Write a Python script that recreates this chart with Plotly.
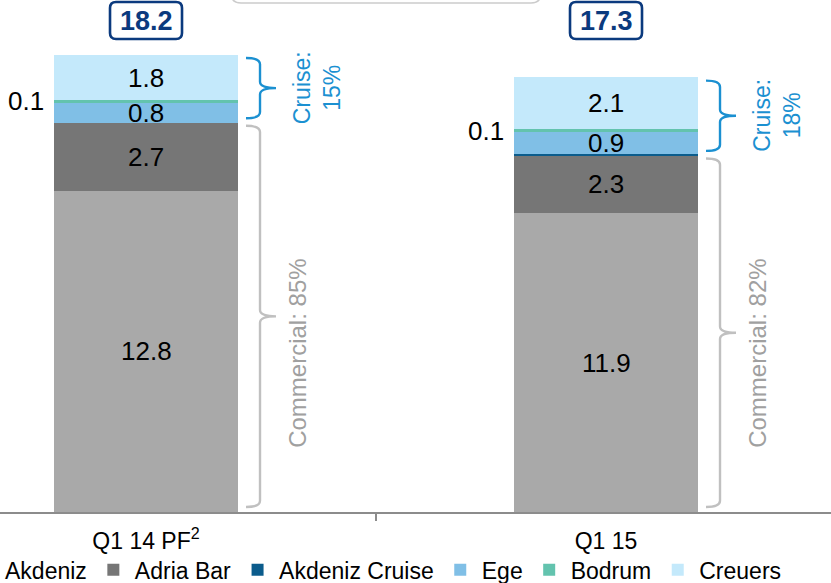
import plotly.graph_objects as go

# ---- data ----
categories = ["Q1 14 PF<sup>2</sup>", "Q1 15"]
series_names = ["Akdeniz", "Adria Bar", "Akdeniz Cruise", "Ege", "Bodrum", "Creuers"]
akdeniz = [12.8, 11.9]
adria_bar = [2.7, 2.3]
akdeniz_cruise = [0.0, 0.04]
ege = [0.8, 0.9]
bodrum = [0.1, 0.1]
creuers = [1.8, 2.1]
totals = [18.2, 17.3]
commercial_share = ["85%", "82%"]
cruise_share = ["15%", "18%"]

series_values = [akdeniz, adria_bar, akdeniz_cruise, ege, bodrum, creuers]
colors = ["#a9a9a9", "#767676", "#0b5c8c", "#80bfe6", "#63c3ae", "#c4e9fb"]
FONT = "Liberation Sans, Arial, sans-serif"
CRUISE_BLUE = "#1b90d1"
COMM_GRAY = "#c0c0c0"
NAVY = "#0b3a7e"

x = list(range(len(categories)))
bar_w = 0.4

fig = go.Figure()
for name, vals, col in zip(series_names, series_values, colors):
    fig.add_trace(go.Bar(x=x, y=vals, name=name, width=bar_w,
                         marker=dict(color=col, line=dict(width=0)),
                         hoverinfo="skip"))

annotations = []
shapes = []
for i in x:
    base = 0.0
    cum = []
    for vals in series_values:
        cum.append((base, base + vals[i]))
        base += vals[i]
    # inside segment labels
    for k in (0, 1, 3, 5):
        lo, hi = cum[k]
        annotations.append(dict(x=i, y=(lo + hi) / 2, xref="x", yref="y",
                                text=f"{series_values[k][i]:.1f}", showarrow=False,
                                font=dict(size=26, color="#000000", family=FONT)))
    # bodrum label outside left
    lo, hi = cum[4]
    annotations.append(dict(x=i - bar_w / 2, y=(lo + hi) / 2, xref="x", yref="y",
                            xanchor="right", xshift=-8,
                            text=f"{bodrum[i]:.1f}", showarrow=False,
                            font=dict(size=26, color="#000000", family=FONT)))
    # totals in rounded boxes
    annotations.append(dict(x=i, y=1, xref="x", yref="paper", yanchor="middle",
                            yshift=-20.5, text=f"<b>{totals[i]:.1f}</b>", showarrow=False,
                            font=dict(size=27, color=NAVY, family=FONT)))
    x0, x1, y0, y1, r = -36, 36, -2, -39, 6
    box = (f"M{x0+r},{y0} L{x1-r},{y0} Q{x1},{y0} {x1},{y0-r} L{x1},{y1+r} "
           f"Q{x1},{y1} {x1-r},{y1} L{x0+r},{y1} Q{x0},{y1} {x0},{y1+r} "
           f"L{x0},{y0-r} Q{x0},{y0} {x0+r},{y0} Z")
    shapes.append(dict(type="path", xref="x", yref="paper", xsizemode="pixel",
                       ysizemode="pixel", xanchor=i, yanchor=1, path=box,
                       line=dict(color=NAVY, width=2.6)))

    commercial_top = akdeniz[i] + adria_bar[i]
    total = totals[i]

    def brace(top, bot, color):
        mid = (top + bot) / 2
        rr = 0.25
        p = (f"M8,{top} Q22,{top} 22,{top-rr} L22,{mid+rr} Q22,{mid} 38,{mid} "
             f"Q22,{mid} 22,{mid-rr} L22,{bot+rr} Q22,{bot} 8,{bot}")
        return dict(type="path", xref="x", yref="y", xsizemode="pixel",
                    xanchor=i + bar_w / 2, path=p, line=dict(color=color, width=2.4)), mid

    s, cmid = brace(total - 0.12, commercial_top + 0.18, CRUISE_BLUE)
    shapes.append(s)
    s, _ = brace(commercial_top - 0.12, 0.2, COMM_GRAY)
    shapes.append(s)
    annotations.append(dict(x=i + bar_w / 2, y=cmid, xref="x", yref="y", xshift=79,
                            text=f"Cruise:<br>{cruise_share[i]}", textangle=-90,
                            showarrow=False,
                            font=dict(size=23, color=CRUISE_BLUE, family=FONT)))
    annotations.append(dict(x=i + bar_w / 2, y=6.3, xref="x", yref="y", xshift=60,
                            text=f"Commercial: {commercial_share[i]}", textangle=-90,
                            showarrow=False,
                            font=dict(size=24, color="#a0a0a0", family=FONT)))

# partially visible top box
tb = "M231,20 L231,7 Q231,-3 241,-3 L531,-3 Q541,-3 541,7 L541,20"
shapes.append(dict(type="path", xref="paper", yref="paper", xsizemode="pixel",
                   ysizemode="pixel", xanchor=0, yanchor=1, path=tb,
                   line=dict(color="#cccccc", width=1.5)))

fig.update_layout(
    width=831, height=583,
    margin=dict(l=0, r=0, t=0, b=71, autoexpand=False),
    barmode="stack",
    plot_bgcolor="white", paper_bgcolor="white",
    font=dict(family=FONT, color="#000000"),
    showlegend=True,
    legend=dict(orientation="h", x=-0.0457, xanchor="left", y=-0.113,
                yanchor="middle", itemwidth=33, traceorder="normal",
                font=dict(size=23, color="#000000", family=FONT),
                bgcolor="rgba(0,0,0,0)"),
    xaxis=dict(range=[-0.3174, 1.4891], tickvals=x, ticktext=categories,
               ticks="", showline=True, linecolor="#8c8c8c", linewidth=2,
               showgrid=False, zeroline=False, ticklabelstandoff=7,
               tickfont=dict(size=23, color="#000000", family=FONT),
               minor=dict(tickvals=[0.5], ticks="outside", ticklen=7,
                          tickcolor="#8c8c8c", tickwidth=1.5, showgrid=False)),
    yaxis=dict(range=[0, 20.39], visible=False),
    annotations=annotations,
    shapes=shapes,
)

fig.write_html("out.html")
